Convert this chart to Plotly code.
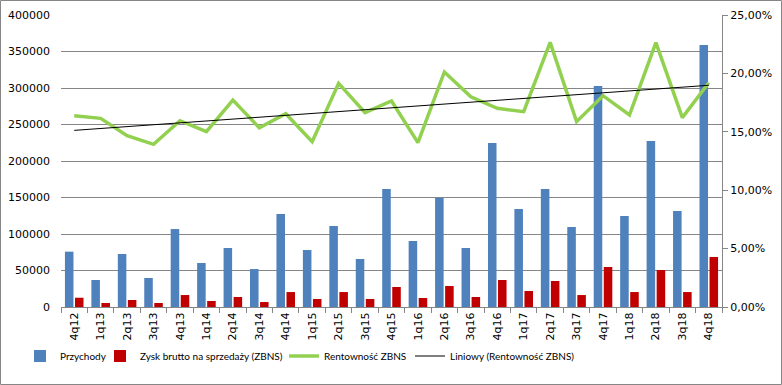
import numpy as np
import plotly.graph_objects as go

categories = ["4q12", "1q13", "2q13", "3q13", "4q13", "1q14", "2q14", "3q14", "4q14",
              "1q15", "2q15", "3q15", "4q15", "1q16", "2q16", "3q16", "4q16",
              "1q17", "2q17", "3q17", "4q17", "1q18", "2q18", "3q18", "4q18"]
przychody = [75800, 37000, 72600, 39700, 106800, 60300, 80800, 52000, 127400,
             78100, 111000, 65800, 161600, 90400, 149700, 80800, 224700,
             134300, 161600, 109600, 302800, 124700, 227400, 131500, 358900]
zysk = [12700, 5500, 9600, 5500, 16400, 8200, 13700, 6800, 20500,
        11000, 20500, 11000, 27400, 12300, 28800, 13700, 37000,
        21900, 35600, 16400, 54800, 20500, 50700, 20500, 68500]
rentownosc = [0.1638, 0.1615, 0.1467, 0.1393, 0.1595, 0.1501, 0.1772, 0.1535, 0.1655,
              0.1415, 0.1915, 0.1664, 0.1764, 0.1407, 0.2012, 0.1800, 0.1701,
              0.1672, 0.2266, 0.1587, 0.1809, 0.1644, 0.2263, 0.1621, 0.1920]

# Excel linear trendline of the Rentowność series
idx = np.arange(len(rentownosc))
slope, intercept = np.polyfit(idx, rentownosc, 1)
trend = (slope * idx + intercept).tolist()

W, H = 782, 385
L, R, T, B = 61, 60, 15, 78
pw, ph = W - L - R, H - T - B

fig = go.Figure()
fig.add_trace(go.Bar(x=categories, y=przychody, name="Przychody", legend="legend",
                     marker=dict(color="#4F81BD", line=dict(width=0))))
fig.add_trace(go.Bar(x=categories, y=zysk, name="Zysk brutto na sprzedaży (ZBNS)", legend="legend2",
                     marker=dict(color="#C00000", line=dict(width=0))))
fig.add_trace(go.Scatter(x=categories, y=rentownosc, name="Rentowność ZBNS", yaxis="y2",
                         legend="legend3",
                         mode="lines", line=dict(color="#92D050", width=3.5)))
fig.add_trace(go.Scatter(x=categories, y=trend, name="Liniowy (Rentowność ZBNS)", yaxis="y2",
                         legend="legend4",
                         mode="lines", line=dict(color="#000000", width=1)))

axis_font = dict(family="DejaVu Sans", size=11, color="#000000")
leg_font = dict(family="Lato", size=10, color="#000000")


def leg(x0):
    return dict(orientation="h", xref="container", yref="container",
                x=x0 / W, xanchor="left", y=(H - 356) / H, yanchor="middle",
                font=leg_font, itemwidth=30, bgcolor="rgba(0,0,0,0)", borderwidth=0)


fig.update_layout(
    width=W, height=H,
    margin=dict(l=L, r=R, t=T, b=B, pad=0, autoexpand=False),
    paper_bgcolor="#FFFFFF", plot_bgcolor="#FFFFFF",
    separators=", ",
    barmode="group", bargap=0.24, bargroupgap=0.15,
    showlegend=True,
    legend=leg(20), legend2=leg(100), legend3=leg(284), legend4=leg(410),
    xaxis=dict(type="category", tickangle=-90, tickfont=axis_font, automargin=False,
               showline=True, linecolor="#868686", linewidth=1,
               ticks="outside", tickson="boundaries", ticklen=5, tickcolor="#868686",
               showgrid=False, zeroline=False),
    yaxis=dict(range=[0, 400000], dtick=50000, tickformat="d", tickfont=axis_font, automargin=False,
               showgrid=True, gridcolor="#868686", gridwidth=1,
               showline=False, zeroline=False, ticks="", ticklabelstandoff=10),
    yaxis2=dict(range=[0, 0.25], dtick=0.05, tickformat=".2%", overlaying="y", side="right",
                tickfont=axis_font, showgrid=False, zeroline=False, automargin=False,
                showline=True, linecolor="#868686", linewidth=1,
                ticks="outside", ticklen=5, tickcolor="#868686"),
    shapes=[dict(type="rect", xref="paper", yref="paper",
                 x0=(0.5 - L) / pw, x1=(W - 0.5 - L) / pw,
                 y0=(T + ph - (H - 0.5)) / ph, y1=(T + ph - 0.5) / ph,
                 line=dict(color="#868686", width=1), fillcolor="rgba(0,0,0,0)", layer="below")],
)

fig.write_html("out.html", config={"displayModeBar": False},
               post_script="document.body.style.margin='0px';document.body.style.overflow='hidden';")
